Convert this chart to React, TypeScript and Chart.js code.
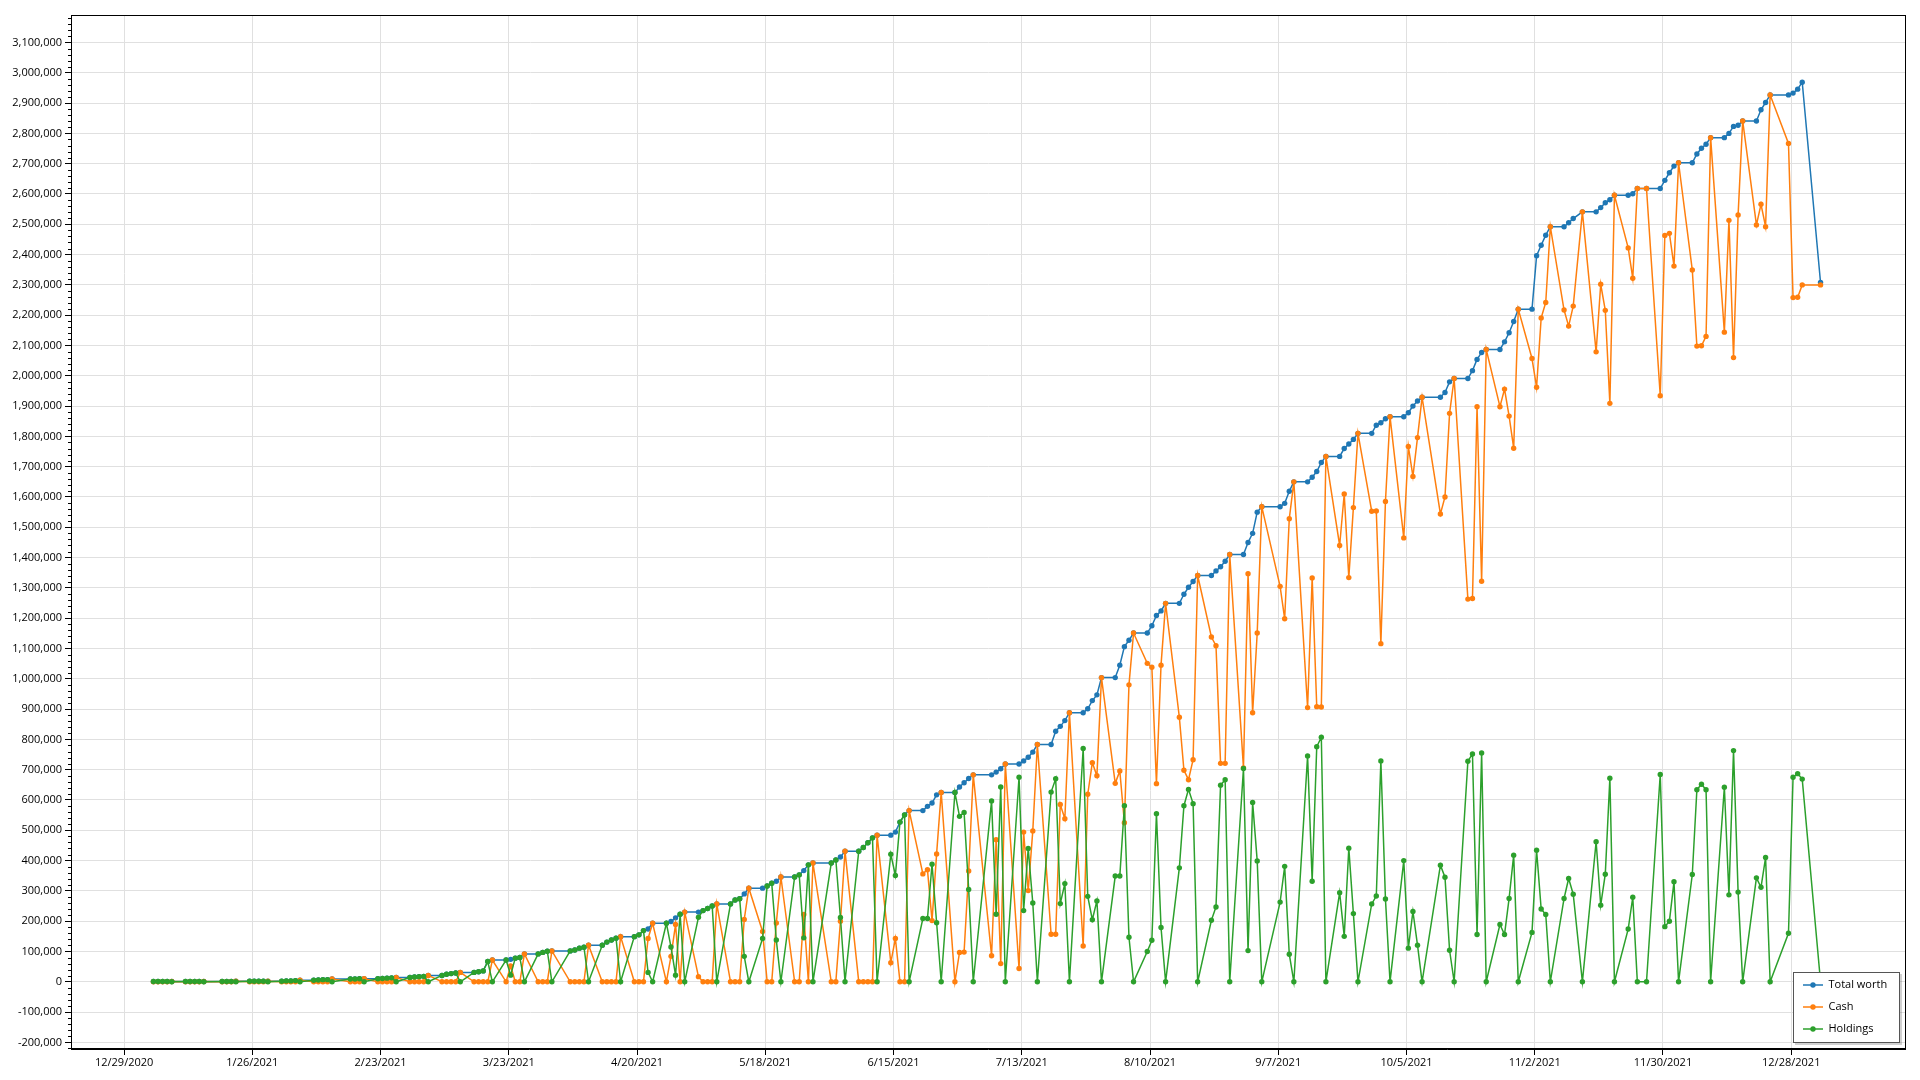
import React, { useEffect, useRef } from "react";
import { Chart, registerables } from "chart.js";

Chart.register(...registerables);

// ---------- DATA (values in thousands) ----------
const dates = [
  "2021-01-04","2021-01-05","2021-01-06","2021-01-07","2021-01-08",
  "2021-01-11","2021-01-12","2021-01-13","2021-01-14","2021-01-15",
  "2021-01-19","2021-01-20","2021-01-21","2021-01-22",
  "2021-01-25","2021-01-26","2021-01-27","2021-01-28","2021-01-29",
  "2021-02-01","2021-02-02","2021-02-03","2021-02-04","2021-02-05",
  "2021-02-08","2021-02-09","2021-02-10","2021-02-11","2021-02-12",
  "2021-02-16","2021-02-17","2021-02-18","2021-02-19",
  "2021-02-22","2021-02-23","2021-02-24","2021-02-25","2021-02-26",
  "2021-03-01","2021-03-02","2021-03-03","2021-03-04","2021-03-05",
  "2021-03-08","2021-03-09","2021-03-10","2021-03-11","2021-03-12",
  "2021-03-15","2021-03-16","2021-03-17","2021-03-18","2021-03-19",
  "2021-03-22","2021-03-23","2021-03-24","2021-03-25","2021-03-26",
  "2021-03-29","2021-03-30","2021-03-31","2021-04-01",
  "2021-04-05","2021-04-06","2021-04-07","2021-04-08","2021-04-09",
  "2021-04-12","2021-04-13","2021-04-14","2021-04-15","2021-04-16",
  "2021-04-19","2021-04-20","2021-04-21","2021-04-22","2021-04-23",
  "2021-04-26","2021-04-27","2021-04-28","2021-04-29","2021-04-30",
  "2021-05-03","2021-05-04","2021-05-05","2021-05-06","2021-05-07",
  "2021-05-10","2021-05-11","2021-05-12","2021-05-13","2021-05-14",
  "2021-05-17","2021-05-18","2021-05-19","2021-05-20","2021-05-21",
  "2021-05-24","2021-05-25","2021-05-26","2021-05-27","2021-05-28",
  "2021-06-01","2021-06-02","2021-06-03","2021-06-04",
  "2021-06-07","2021-06-08","2021-06-09","2021-06-10","2021-06-11",
  "2021-06-14","2021-06-15","2021-06-16","2021-06-17","2021-06-18",
  "2021-06-21","2021-06-22","2021-06-23","2021-06-24","2021-06-25",
  "2021-06-28","2021-06-29","2021-06-30","2021-07-01","2021-07-02",
  "2021-07-06","2021-07-07","2021-07-08","2021-07-09",
  "2021-07-12","2021-07-13","2021-07-14","2021-07-15","2021-07-16",
  "2021-07-19","2021-07-20","2021-07-21","2021-07-22","2021-07-23",
  "2021-07-26","2021-07-27","2021-07-28","2021-07-29","2021-07-30",
  "2021-08-02","2021-08-03","2021-08-04","2021-08-05","2021-08-06",
  "2021-08-09","2021-08-10","2021-08-11","2021-08-12","2021-08-13",
  "2021-08-16","2021-08-17","2021-08-18","2021-08-19","2021-08-20",
  "2021-08-23","2021-08-24","2021-08-25","2021-08-26","2021-08-27",
  "2021-08-30","2021-08-31","2021-09-01","2021-09-02","2021-09-03",
  "2021-09-07","2021-09-08","2021-09-09","2021-09-10",
  "2021-09-13","2021-09-14","2021-09-15","2021-09-16","2021-09-17",
  "2021-09-20","2021-09-21","2021-09-22","2021-09-23","2021-09-24",
  "2021-09-27","2021-09-28","2021-09-29","2021-09-30","2021-10-01",
  "2021-10-04","2021-10-05","2021-10-06","2021-10-07","2021-10-08",
  "2021-10-12","2021-10-13","2021-10-14","2021-10-15",
  "2021-10-18","2021-10-19","2021-10-20","2021-10-21","2021-10-22",
  "2021-10-25","2021-10-26","2021-10-27","2021-10-28","2021-10-29",
  "2021-11-01","2021-11-02","2021-11-03","2021-11-04","2021-11-05",
  "2021-11-08","2021-11-09","2021-11-10","2021-11-12",
  "2021-11-15","2021-11-16","2021-11-17","2021-11-18","2021-11-19",
  "2021-11-22","2021-11-23","2021-11-24","2021-11-26",
  "2021-11-29","2021-11-30","2021-12-01","2021-12-02","2021-12-03",
  "2021-12-06","2021-12-07","2021-12-08","2021-12-09","2021-12-10",
  "2021-12-13","2021-12-14","2021-12-15","2021-12-16","2021-12-17",
  "2021-12-20","2021-12-21","2021-12-22","2021-12-23",
  "2021-12-27","2021-12-28","2021-12-29","2021-12-30",
  "2022-01-03",
];

const totalWorth = [
  1, 1, 1, 1, 1,
  1, 1, 1, 1, 1,
  1, 1, 1, 2,
  2, 2, 2, 2, 2,
  2, 3, 3, 4, 5,
  5, 6, 7, 7, 9,
  9, 9, 10, 10,
  10, 11, 12, 13, 14,
  14, 16, 17, 18, 21,
  21, 25, 27, 29, 31,
  31, 33, 36, 67, 72,
  72, 74, 78, 80, 92,
  92, 97, 101, 102,
  102, 105, 111, 114, 121,
  121, 131, 138, 144, 149,
  149, 155, 169, 174, 193,
  193, 199, 211, 223, 230,
  230, 235, 242, 250, 257,
  257, 270, 274, 290, 309,
  309, 316, 325, 332, 346,
  346, 353, 367, 386, 392,
  392, 402, 412, 431,
  431, 443, 459, 475, 484,
  484, 494, 527, 551, 565,
  565, 579, 590, 617, 625,
  625, 643, 657, 671, 683,
  683, 692, 703, 719,
  719, 729, 741, 758, 783,
  783, 827, 843, 862, 888,
  888, 901, 928, 947, 1004,
  1004, 1045, 1106, 1127, 1151,
  1151, 1175, 1209, 1224, 1249,
  1249, 1279, 1302, 1321, 1341,
  1341, 1356, 1370, 1388, 1410,
  1410, 1450, 1480, 1550, 1568,
  1568, 1579, 1619, 1650,
  1650, 1665, 1684, 1714, 1734,
  1734, 1760, 1775, 1790, 1810,
  1810, 1837, 1845, 1858, 1865,
  1865, 1878, 1900, 1917, 1929,
  1929, 1945, 1980, 1991,
  1991, 2017, 2054, 2077, 2087,
  2087, 2112, 2142, 2179, 2220,
  2220, 2396, 2431, 2464, 2492,
  2492, 2505, 2519, 2541,
  2541, 2555, 2571, 2581, 2596,
  2596, 2601, 2618, 2618,
  2618, 2645, 2670, 2692, 2703,
  2703, 2732, 2751, 2764, 2786,
  2786, 2800, 2823, 2827, 2841,
  2841, 2878, 2902, 2927,
  2927, 2933, 2946, 2969,
  2308,
];

const cash = [
  0, 0, 0, 0, 1,
  0, 0, 0, 0, 1,
  0, 0, 0, 2,
  0, 0, 0, 0, 2,
  0, 0, 0, 0, 5,
  0, 0, 0, 0, 9,
  0, 0, 0, 10,
  0, 0, 0, 0, 14,
  0, 0, 0, 0, 21,
  0, 0, 0, 0, 31,
  0, 0, 0, 0, 72,
  0, 52, 0, 0, 92,
  0, 0, 0, 102,
  0, 0, 0, 0, 121,
  0, 0, 0, 0, 149,
  0, 0, 0, 143, 193,
  0, 84, 189, 0, 230,
  17, 0, 0, 0, 257,
  0, 0, 0, 206, 309,
  166, 0, 0, 194, 346,
  0, 0, 222, 0, 392,
  0, 0, 200, 431,
  0, 0, 0, 0, 484,
  63, 143, 0, 0, 565,
  356, 370, 202, 422, 625,
  0, 97, 98, 366, 683,
  86, 469, 60, 719,
  44, 494, 301, 498, 783,
  157, 157, 585, 538, 888,
  118, 619, 723, 680, 1004,
  655, 696, 525, 980, 1151,
  1051, 1038, 654, 1045, 1249,
  873, 698, 667, 733, 1341,
  1138, 1109, 721, 721, 1410,
  706, 1347, 888, 1151, 1568,
  1305, 1198, 1528, 1650,
  905, 1333, 908, 907, 1734,
  1440, 1610, 1334, 1565, 1810,
  1553, 1554, 1116, 1585, 1865,
  1465, 1767, 1668, 1796, 1929,
  1544, 1600, 1876, 1991,
  1263, 1265, 1898, 1322, 2087,
  1898, 1956, 1867, 1761, 2220,
  2057, 1962, 2191, 2242, 2492,
  2217, 2164, 2230, 2541,
  2079, 2302, 2216, 1909, 2596,
  2422, 2322, 2618, 2618,
  1934, 2463, 2470, 2362, 2703,
  2349, 2098, 2099, 2130, 2786,
  2144, 2513, 2060, 2531, 2841,
  2498, 2566, 2492, 2927,
  2767, 2258, 2259, 2300,
  2300,
];

const holdings = [
  1, 1, 1, 1, 0,
  1, 1, 1, 1, 0,
  1, 1, 1, 0,
  2, 2, 2, 2, 0,
  2, 3, 3, 4, 0,
  5, 6, 7, 7, 0,
  9, 9, 10, 0,
  10, 11, 12, 13, 0,
  14, 16, 17, 18, 0,
  21, 25, 27, 29, 0,
  31, 33, 36, 67, 0,
  72, 22, 78, 80, 0,
  92, 97, 101, 0,
  102, 105, 111, 114, 0,
  121, 131, 138, 144, 0,
  149, 155, 169, 31, 0,
  193, 115, 22, 223, 0,
  213, 235, 242, 250, 0,
  257, 270, 274, 84, 0,
  143, 316, 325, 138, 0,
  346, 353, 145, 386, 0,
  392, 402, 212, 0,
  431, 443, 459, 475, 0,
  421, 351, 527, 551, 0,
  209, 209, 388, 195, 0,
  625, 546, 559, 305, 0,
  597, 223, 643, 0,
  675, 235, 440, 260, 0,
  626, 670, 258, 324, 0,
  770, 282, 205, 267, 0,
  349, 349, 581, 147, 0,
  100, 137, 555, 179, 0,
  376, 581, 635, 588, 0,
  203, 247, 649, 667, 0,
  704, 103, 592, 399, 0,
  263, 381, 91, 0,
  745, 332, 776, 807, 0,
  294, 150, 441, 225, 0,
  257, 283, 729, 273, 0,
  400, 111, 232, 121, 0,
  385, 345, 104, 0,
  728, 752, 156, 755, 0,
  189, 156, 275, 418, 0,
  163, 434, 240, 222, 0,
  275, 341, 289, 0,
  462, 253, 355, 672, 0,
  174, 279, 0, 0,
  684, 182, 200, 330, 0,
  354, 634, 652, 634, 0,
  642, 287, 763, 296, 0,
  343, 312, 410, 0,
  160, 675, 687, 669,
  0,
];

const xTickLabels = [
  "12/29/2020", "1/26/2021", "2/23/2021", "3/23/2021", "4/20/2021", "5/18/2021", "6/15/2021",
  "7/13/2021", "8/10/2021", "9/7/2021", "10/5/2021", "11/2/2021", "11/30/2021", "12/28/2021",
];

const yTickValues = [
  -200000, -100000, 0, 100000, 200000, 300000, 400000, 500000, 600000, 700000, 800000,
  900000, 1000000, 1100000, 1200000, 1300000, 1400000, 1500000, 1600000, 1700000, 1800000,
  1900000, 2000000, 2100000, 2200000, 2300000, 2400000, 2500000, 2600000, 2700000, 2800000,
  2900000, 3000000, 3100000,
];

const seriesNames = ["Total worth", "Cash", "Holdings"];
const seriesColors = ["#1f77b4", "#ff7f0e", "#2ca02c"];

// ---------- helpers ----------
const UNIT = 1000;
const DAY_MS = 86400000;
const ORIGIN = Date.UTC(2020, 11, 29);
const TIME_OF_DAY = 0.4; // points are stamped in the morning of each date
const X_MIN = -11.6;
const X_MAX = 388.95;
const Y_MIN = -221800;
const Y_MAX = 3190700;
const FONT_FAMILY = '"Segoe UI", "Open Sans", sans-serif';

function isoToDay(iso: string): number {
  const [y, m, d] = iso.split("-").map(Number);
  return (Date.UTC(y, m - 1, d) - ORIGIN) / DAY_MS;
}
function labelToDay(lbl: string): number {
  const [m, d, y] = lbl.split("/").map(Number);
  return (Date.UTC(y, m - 1, d) - ORIGIN) / DAY_MS;
}
const xTickDays = xTickLabels.map(labelToDay);

const decorPlugin = {
  id: "decor",
  afterDraw(chart: any) {
    const { ctx, chartArea: a, scales } = chart;
    const L = Math.round(a.left) + 0.5;
    const R = Math.round(a.right) - 0.5;
    const T = Math.round(a.top) + 0.5;
    const B = Math.round(a.bottom) - 0.5;
    ctx.save();
    ctx.strokeStyle = "#000";
    ctx.lineWidth = 1;
    ctx.strokeRect(L, T, R - L, B - T);

    // minor ticks on the value axis
    ctx.beginPath();
    for (let v = -220000; v <= Y_MAX; v += 20000) {
      if (v % 100000 === 0) continue;
      const p = Math.round(scales.y.getPixelForValue(v)) + 0.5;
      ctx.moveTo(L - 3.5, p);
      ctx.lineTo(L, p);
    }
    ctx.stroke();

    // legend box (bottom-right inside plot area)
    const lw = 106, lh = 70;
    const lx = Math.round(a.right - 7 - lw) + 0.5;
    const ly = Math.round(a.bottom - 7 - lh) + 0.5;
    ctx.fillStyle = "rgba(0,0,0,0.18)";
    ctx.fillRect(lx + 1.5, ly + 1.5, lw + 1, lh + 1);
    ctx.fillStyle = "#fff";
    ctx.fillRect(lx, ly, lw, lh);
    ctx.strokeStyle = "#555";
    ctx.strokeRect(lx, ly, lw, lh);
    ctx.font = `11px ${FONT_FAMILY}`;
    ctx.textBaseline = "middle";
    ctx.textAlign = "left";
    chart.data.datasets.forEach((ds: any, i: number) => {
      const cy = ly + 12.5 + i * 22;
      ctx.strokeStyle = ds.borderColor;
      ctx.lineWidth = 1.5;
      ctx.beginPath();
      ctx.moveTo(lx + 9.5, cy);
      ctx.lineTo(lx + 29.5, cy);
      ctx.stroke();
      ctx.fillStyle = ds.borderColor;
      ctx.beginPath();
      ctx.arc(lx + 19.5, cy, 2.7, 0, Math.PI * 2);
      ctx.fill();
      ctx.fillStyle = "#000";
      ctx.fillText(ds.label, lx + 35, cy);
    });
    ctx.restore();
  },
};

export default function App() {
  const canvasRef = useRef<HTMLCanvasElement | null>(null);

  useEffect(() => {
    const canvas = canvasRef.current;
    if (!canvas) return;
    const seriesValues = [totalWorth, cash, holdings];
    const orders = [2, 1, 0];
    const datasets = seriesValues.map((vals, s) => ({
      label: seriesNames[s],
      data: dates.map((d, i) => ({ x: isoToDay(d) + TIME_OF_DAY, y: vals[i] * UNIT })),
      borderColor: seriesColors[s],
      backgroundColor: seriesColors[s],
      pointBackgroundColor: seriesColors[s],
      pointBorderWidth: 0,
      pointRadius: 2.7,
      pointHoverRadius: 2.7,
      borderWidth: 1.5,
      tension: 0,
      fill: false,
      order: orders[s],
    }));

    const tickFont = { family: FONT_FAMILY, size: 11 };
    const chart = new Chart(canvas, {
      type: "line",
      data: { datasets },
      options: {
        responsive: false,
        animation: false,
        devicePixelRatio: 1,
        layout: { padding: { top: 15, right: 14.5, left: 0, bottom: 0 } },
        plugins: { legend: { display: false }, tooltip: { enabled: false } },
        events: [],
        scales: {
          x: {
            type: "linear",
            min: X_MIN,
            max: X_MAX,
            afterBuildTicks: (scale: any) => {
              scale.ticks = xTickDays.map((v) => ({ value: v }));
            },
            afterFit: (scale: any) => {
              scale.height = 31;
            },
            ticks: {
              autoSkip: false,
              maxRotation: 0,
              minRotation: 0,
              padding: 1,
              color: "#000",
              font: tickFont,
              callback: (v: any) => {
                const idx = xTickDays.indexOf(Number(v));
                return idx >= 0 ? xTickLabels[idx] : "";
              },
            },
            grid: { color: "#e0e0e0", tickColor: "#000", tickLength: 6, lineWidth: 1 },
            border: { display: true, color: "#000", width: 1 },
          },
          y: {
            type: "linear",
            min: Y_MIN,
            max: Y_MAX,
            afterBuildTicks: (scale: any) => {
              scale.ticks = yTickValues.map((v) => ({ value: v }));
            },
            afterFit: (scale: any) => {
              scale.width = 71;
            },
            ticks: {
              padding: 3,
              color: "#000",
              font: tickFont,
              callback: (v: any) => Number(v).toLocaleString("en-US"),
            },
            grid: { color: "#e0e0e0", tickColor: "#000", tickLength: 6, lineWidth: 1 },
            border: { display: true, color: "#000", width: 1 },
          },
        },
      },
      plugins: [decorPlugin],
    } as any);
    return () => chart.destroy();
  }, []);

  return (
    <div style={{ position: "fixed", left: 0, top: 0, width: 1920, height: 1080, background: "#fff" }}>
      <canvas ref={canvasRef} width={1920} height={1080} style={{ display: "block", width: 1920, height: 1080 }} />
    </div>
  );
}
